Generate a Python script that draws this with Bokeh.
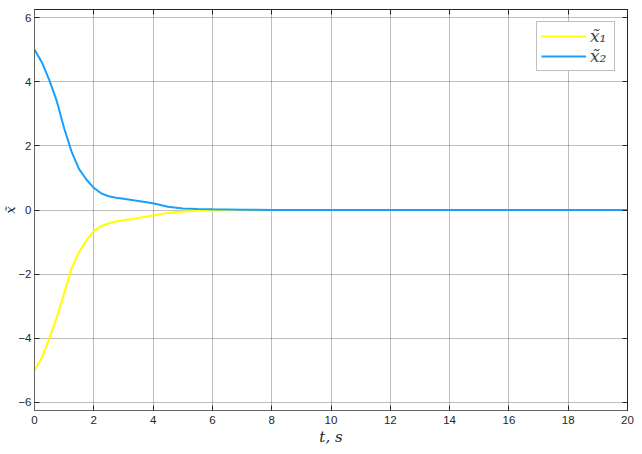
from bokeh.plotting import figure
from bokeh.models import LinearAxis, Range1d, FixedTicker, Legend, LegendItem, CustomJSTickFormatter
from bokeh.embed import file_html
from bokeh.resources import INLINE

t = [0, 0.25, 0.5, 0.75, 1.0, 1.25, 1.5, 1.75, 2.0, 2.25, 2.5, 2.75, 3.0, 3.5,
     4.0, 4.5, 5.0, 5.5, 6.0, 7.0, 8.0, 10, 12, 14, 16, 18, 20]
x1 = [-5.0, -4.6, -4.0, -3.35, -2.6, -1.82, -1.32, -0.95, -0.66, -0.5, -0.42,
      -0.36, -0.32, -0.25, -0.17, -0.09, -0.05, -0.02, -0.01, 0, 0, 0, 0, 0, 0, 0, 0]
x2 = [5.0, 4.6, 4.05, 3.4, 2.55, 1.82, 1.28, 0.95, 0.69, 0.52, 0.43, 0.38, 0.35,
      0.28, 0.21, 0.1, 0.05, 0.03, 0.02, 0.01, 0, 0, 0, 0, 0, 0, 0]
x_ticks = [0, 2, 4, 6, 8, 10, 12, 14, 16, 18, 20]
y_ticks = [-6, -4, -2, 0, 2, 4, 6]
labels = ["x\u0303\u2081", "x\u0303\u2082"]
colors = ["#FFFF00", "#1A9FFF"]

p = figure(width=642, height=454, output_backend="svg",
           toolbar_location=None, x_range=Range1d(0, 20), y_range=Range1d(-6.25, 6.25),
           min_border_left=34, min_border_right=15, min_border_top=9, min_border_bottom=44,
           background_fill_color="white", border_fill_color="white")
p.outline_line_color = "#262626"
p.outline_line_width = 1

for ax in (p.xaxis[0], p.yaxis[0]):
    ax.major_label_text_font = "Liberation Sans"
    ax.major_label_text_font_size = "11.5px"
    ax.major_label_text_color = "#262626"
    ax.axis_line_color = "#666666"
    ax.major_tick_line_color = "#262626"
    ax.major_tick_in = 5
    ax.major_tick_out = 0
    ax.minor_tick_line_color = None
    ax.axis_label_text_font = "DejaVu Serif"
    ax.axis_label_text_font_style = "italic"
    ax.axis_label_text_color = "#262626"

p.xaxis.ticker = FixedTicker(ticks=x_ticks)
p.yaxis.ticker = FixedTicker(ticks=y_ticks)
p.xaxis.major_label_standoff = 5
p.yaxis.major_label_standoff = 3
p.xaxis.axis_label = "t, s"
p.xaxis.axis_label_text_font_size = "15px"
p.xaxis.axis_label_standoff = 1
p.yaxis.axis_label = "x\u0303"
p.yaxis.axis_label_text_font_size = "13px"
p.yaxis.axis_label_standoff = -3

blank = CustomJSTickFormatter(code="return ''")
top = LinearAxis(ticker=FixedTicker(ticks=x_ticks), formatter=blank,
                 major_tick_in=5, major_tick_out=0, minor_tick_line_color=None,
                 axis_line_color="#262626", major_tick_line_color="#262626",
                 major_label_standoff=0)
right = LinearAxis(ticker=FixedTicker(ticks=y_ticks), formatter=blank,
                   major_tick_in=5, major_tick_out=0, minor_tick_line_color=None,
                   axis_line_color="#262626", major_tick_line_color="#262626",
                   major_label_standoff=0)
p.add_layout(top, "above")
p.add_layout(right, "right")

p.xgrid.ticker = FixedTicker(ticks=x_ticks)
p.ygrid.ticker = FixedTicker(ticks=y_ticks)
p.grid.grid_line_color = "#262626"
p.grid.grid_line_alpha = 0.3

r1 = p.line(t, x1, line_color=colors[0], line_width=2)
r2 = p.line(t, x2, line_color=colors[1], line_width=2)

legend = Legend(items=[LegendItem(label=labels[0], renderers=[r1]),
                       LegendItem(label=labels[1], renderers=[r2])],
                location="top_right")
legend.label_text_font = "DejaVu Serif"
legend.label_text_font_style = "italic"
legend.label_text_font_size = "17px"
legend.glyph_width = 45
legend.glyph_height = 20
legend.label_height = 20
legend.spacing = 0
legend.padding = 4
legend.margin = 12
legend.label_standoff = 4
legend.border_line_color = "#808080"
legend.background_fill_color = "white"
legend.background_fill_alpha = 1
p.add_layout(legend)

open("out.html", "w").write(file_html(p, INLINE))
